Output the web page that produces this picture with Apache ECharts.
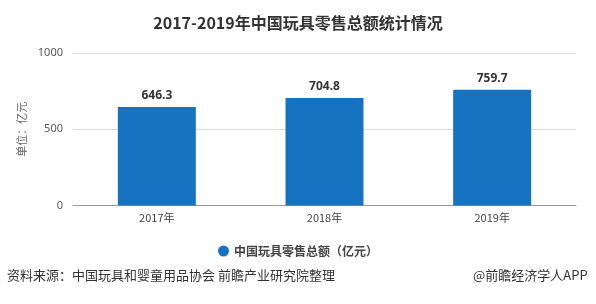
<!DOCTYPE html>
<html><head><meta charset="utf-8">
<script src="https://cdn.jsdelivr.net/npm/echarts@6/dist/echarts.min.js"></script>
<style>html,body{margin:0;padding:0;background:#fff}#c{width:596px;height:304px}</style>
</head><body><div id="c"></div>
<script>
const categories = ['2017年', '2018年', '2019年'];
const seriesName = '中国玩具零售总额（亿元）';
const values = [646.3, 704.8, 759.7];
const titleText = '2017-2019年中国玩具零售总额统计情况';
const yName = '单位：亿元';
const sourceText = '资料来源：中国玩具和婴童用品协会 前瞻产业研究院整理';
const brandText = '@前瞻经济学人APP';

const chart = echarts.init(document.getElementById('c'), null, {renderer: 'canvas'});
chart.setOption({
  animation: false,
  backgroundColor: '#fff',
  title: {
    text: titleText, left: 'center', top: 10,
    textStyle: {fontFamily: 'Noto Sans CJK SC', fontSize: 16, fontWeight: 'bold', color: '#333'}
  },
  legend: {
    data: [seriesName], bottom: 42, left: 'center', icon: 'circle', itemWidth: 11, itemHeight: 11, itemGap: 6,
    textStyle: {fontFamily: 'Noto Sans CJK SC', fontSize: 12, fontWeight: 'bold', color: '#444'}
  },
  grid: {left: 73, right: 20, top: 53, bottom: 98.5},
  xAxis: {
    type: 'category', data: categories,
    axisLine: {lineStyle: {color: '#999'}},
    axisTick: {alignWithLabel: true, length: 5, lineStyle: {color: '#999'}},
    axisLabel: {fontFamily: 'Noto Sans CJK SC', fontSize: 11, color: '#444', margin: 7}
  },
  yAxis: {
    type: 'value', min: 0, max: 1000, interval: 500,
    name: yName, nameLocation: 'middle', nameGap: 40, nameRotate: 90,
    nameTextStyle: {fontFamily: 'Noto Sans CJK SC', fontSize: 11, color: '#666'},
    axisLine: {show: false}, axisTick: {show: false},
    axisLabel: {fontFamily: 'Noto Sans', fontSize: 11, color: '#555', margin: 10, formatter: v => String(v)},
    splitLine: {lineStyle: {color: '#d9d9d9'}}
  },
  series: [{
    name: seriesName, type: 'bar', data: values, barWidth: 78,
    itemStyle: {color: '#1673c2'},
    label: {show: true, position: 'top', distance: 5, fontFamily: 'Noto Sans', fontSize: 12, fontWeight: 'bold', color: '#333'}
  }],
  graphic: [
    {type: 'text', left: 7, top: 269, style: {text: sourceText, font: '13px "Noto Sans CJK SC"', fill: '#333'}},
    {type: 'text', left: 473, top: 269, style: {text: brandText, font: '13px "Noto Sans CJK SC"', fill: '#333'}}
  ]
});
</script></body></html>
